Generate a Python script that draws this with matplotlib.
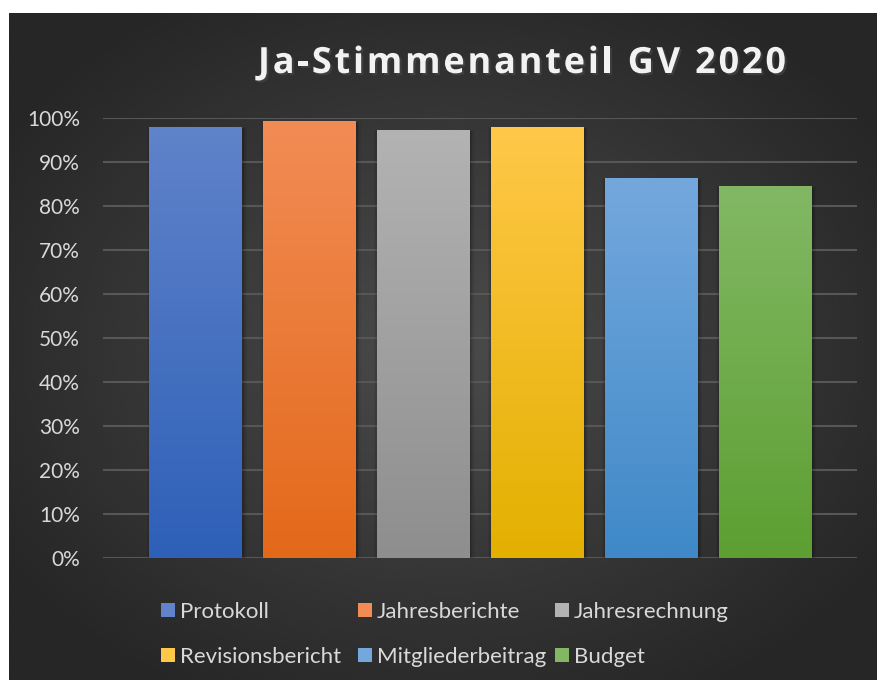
import numpy as np
import matplotlib.pyplot as plt
import matplotlib.patheffects as pe
from matplotlib.patches import Rectangle
from matplotlib.colors import LinearSegmentedColormap
from matplotlib.ticker import PercentFormatter
from matplotlib.font_manager import FontProperties, findfont, get_font

plt.rcParams['font.family'] = ['Lato', 'DejaVu Sans']

categories = ['Protokoll', 'Jahresberichte', 'Jahresrechnung',
              'Revisionsbericht', 'Mitgliederbeitrag', 'Budget']
values = [0.980, 0.993, 0.973, 0.980, 0.864, 0.845]
top_colors = ['#6083ca', '#f28c55', '#b3b3b3', '#ffc848', '#74a8dd', '#82b864']
bottom_colors = ['#2e60b8', '#e3691a', '#8e8e8e', '#e3b000', '#3f89c8', '#5d9f32']
yticks = np.arange(0, 1.01, 0.1)
title = 'Ja-Stimmenanteil GV 2020'

W, H = 878, 680
fig = plt.figure(figsize=(W / 100, H / 100), dpi=100)
fig.patch.set_facecolor('white')

# dark radial background of the chart area
bg = fig.add_axes([9 / W, 0, (W - 9) / W, (H - 13) / H])
yy, xx = np.mgrid[0:1:300j, 0:1:400j]
r = np.sqrt(((xx - 0.5) / 0.75) ** 2 + ((yy - 0.5) / 0.75) ** 2)
shade = np.clip(0.295 - 0.18 * r, 0.15, 0.3)
bg.imshow(shade, cmap='gray', vmin=0, vmax=1, aspect='auto',
          extent=[0, 1, 0, 1], interpolation='bicubic')
bg.set_axis_off()

ax = fig.add_axes([103 / W, (H - 558) / H, 754 / W, 440 / H])
ax.set_facecolor('none')
x = np.arange(len(categories))
bars = ax.bar(x, values, width=0.81, zorder=3)

for i, b in enumerate(bars):
    x0, w, h = b.get_x(), b.get_width(), b.get_height()
    # soft shadow
    for k, a in zip([0.07, 0.05, 0.03, 0.015], [0.05, 0.07, 0.08, 0.10]):
        ax.add_patch(Rectangle((x0 - k * 0.5 + 0.012, -0.006), w + k,
                               h + k * 0.08, color='black', alpha=a,
                               lw=0, zorder=2))
    cmap = LinearSegmentedColormap.from_list('g', [bottom_colors[i], top_colors[i]])
    grad = np.linspace(0, 1, 256).reshape(-1, 1)
    im = ax.imshow(grad, cmap=cmap, aspect='auto', origin='lower',
                   extent=[x0, x0 + w, 0, h], zorder=3)
    im.set_clip_path(b)
    b.set_alpha(0)

ax.set_xlim(-0.81, len(categories) - 1 + 0.81)
ax.set_ylim(0, 1)
ax.set_yticks(yticks)
ax.yaxis.set_major_formatter(PercentFormatter(1.0, decimals=0))
ax.grid(axis='y', color='#575757', lw=1.5, zorder=1)
ax.set_axisbelow(True)
ax.set_xticks([])
ax.tick_params(axis='y', length=0, pad=16.5, labelsize=15, labelcolor='#d9d9d9')
for s in ax.spines.values():
    s.set_visible(False)

# title with wide letter spacing, placed character by character
fp = FontProperties(family='Open Sans', weight='bold', size=26)
font = get_font(findfont(fp))
font.set_size(26, 100)
adv = []
for ch in title:
    g = font.load_char(ord(ch))
    adv.append(g.linearHoriAdvance / 65536)
left, right = 258, 786
gap = (right - left - sum(adv)) / (len(title) - 1)
cur = left
for ch, a in zip(title, adv):
    if ch != ' ':
        fig.text(cur / W, 1 - 73 / H, ch, ha='left', va='baseline',
                 fontproperties=fp, color='#f2f2f2',
                 path_effects=[pe.SimplePatchShadow(offset=(1.5, -1.5), alpha=0.6),
                               pe.Normal()])
    cur += a + gap

# legend, laid out in rows like the original
col_x = [161, 358, 555]
row_y = [610, 655]
for i, name in enumerate(categories):
    cx, cy = col_x[i % 3], row_y[i // 3]
    fig.patches.append(Rectangle((cx / W, (H - cy - 7) / H), 14 / W, 14 / H,
                                 transform=fig.transFigure,
                                 facecolor=top_colors[i], lw=0))
    fig.text((cx + 19) / W, (H - cy) / H, name, ha='left', va='center_baseline',
             fontsize=16, color='#d9d9d9')

fig.savefig('out.png', dpi=100, facecolor='white')
